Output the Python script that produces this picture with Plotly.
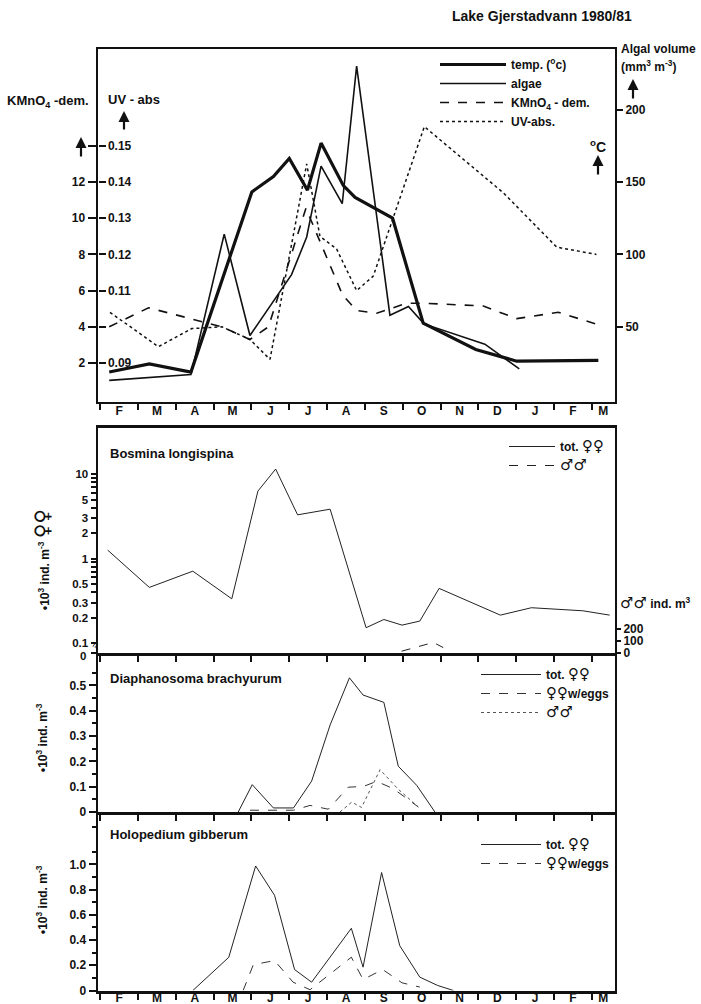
import plotly.graph_objects as go

# ---------------- data (x = months since 1 Feb 1980) ----------------
months = ["F", "M", "A", "M", "J", "J", "A", "S", "O", "N", "D", "J", "F", "M"]
month_pos = [0.5, 1.5, 2.5, 3.5, 4.5, 5.5, 6.5, 7.5, 8.5, 9.5, 10.5, 11.5, 12.5, 13.3]
month_bounds = list(range(0, 14))

temp_x = [0.24, 1.30, 2.40, 4.01, 4.58, 5.00, 5.48, 5.84, 6.43, 6.74, 7.73, 8.54, 9.93, 11.01, 13.17]
temp_c = [1.5, 1.95, 1.5, 11.45, 12.3, 13.3, 11.55, 14.15, 11.8, 11.15, 10.0, 4.2, 2.75, 2.1, 2.15]

algae_x = [0.24, 2.40, 3.28, 3.96, 5.06, 5.46, 5.84, 6.40, 6.78, 7.66, 8.15, 8.56, 10.17, 11.08]
algae_vol = [13, 17, 114, 44, 86, 112, 161, 135, 230, 58, 64, 52, 38, 21]

kmno4_x = [0.24, 1.28, 3.22, 3.96, 4.45, 5.44, 6.41, 6.78, 7.31, 8.10, 8.59, 10.13, 11.01, 12.11, 13.12]
kmno4 = [4.0, 5.05, 4.0, 3.3, 4.0, 10.55, 5.75, 4.9, 4.75, 5.3, 5.3, 5.15, 4.45, 4.8, 4.15]

uv_x = [0.26, 1.54, 2.42, 3.22, 3.96, 4.49, 5.46, 5.81, 6.25, 6.78, 7.22, 8.57, 10.66, 12.07, 13.12]
uv_abs = [0.104, 0.0945, 0.0995, 0.100, 0.0965, 0.091, 0.145, 0.125, 0.1215, 0.110, 0.114, 0.1553, 0.137, 0.122, 0.120]

bos_x = [0.20, 1.30, 2.45, 3.48, 4.17, 4.64, 5.22, 6.08, 7.03, 7.50, 7.98, 8.45, 8.96, 10.58, 11.40, 12.76, 13.47]
bos_fem = [1.26, 0.456, 0.71, 0.334, 6.3, 11.5, 3.3, 3.85, 0.152, 0.19, 0.163, 0.182, 0.444, 0.214, 0.262, 0.241, 0.214]
bos_m_x = [7.97, 8.81, 9.07]
bos_male = [15, 88, 45]

dia_x = [3.65, 4.02, 4.58, 5.11, 5.59, 6.08, 6.59, 6.95, 7.50, 7.88, 8.37, 8.85]
dia_tot = [0, 0.108, 0.016, 0.016, 0.122, 0.344, 0.530, 0.462, 0.433, 0.181, 0.105, 0]
dia_e_x = [3.96, 4.58, 5.11, 5.55, 6.03, 6.56, 6.96, 7.31, 7.75, 8.41]
dia_eggs = [0.007, 0.007, 0.007, 0.026, 0.011, 0.098, 0.101, 0.121, 0.092, 0.02]
dia_m_x = [6.34, 6.65, 6.91, 7.40, 7.88, 8.41]
dia_male = [0, 0.039, 0.018, 0.167, 0.09, 0.02]

hol_x = [2.45, 3.40, 4.11, 4.61, 5.14, 5.59, 6.64, 6.95, 7.44, 7.92, 8.45, 8.92, 9.34]
hol_tot = [0, 0.263, 0.987, 0.755, 0.166, 0.066, 0.493, 0.185, 0.935, 0.355, 0.106, 0.04, 0]
hol_e_x = [3.78, 4.05, 4.61, 5.10, 5.55, 6.64, 6.95, 7.47, 7.98, 8.45]
hol_eggs = [0, 0.205, 0.237, 0.066, 0.006, 0.264, 0.087, 0.166, 0.061, 0.027]

# ---------------- geometry helpers ----------------
W, H = 701, 1004
def px(x): return x / W
def py(y): return 1 - y / H

FONT = "Liberation Sans, Arial, sans-serif"
INK = "#111111"
XR = [-0.07, 13.61]
XDOM = [px(97.5), px(615)]

# top panel: one unit of KMnO4 / degC = 18.1 px, 0 at y=399.2
K_lo, K_hi = (399.2 - 402) / 18.1, (399.2 - 49) / 18.1

SYM = "<span style=\"font-family:'DejaVu Sans';font-size:15px;font-weight:normal\">{}</span>"
fem = SYM.format("\u2640\u2640")
mal = SYM.format("\u2642\u2642")

fig = go.Figure()
fig.add_trace(go.Scatter(x=temp_x, y=temp_c, mode="lines", name="temp. (<sup>o</sup>c)",
                         line=dict(color=INK, width=3.2), xaxis="x", yaxis="y", legend="legend"))
fig.add_trace(go.Scatter(x=algae_x, y=algae_vol, mode="lines", name="algae",
                         line=dict(color=INK, width=1.6), xaxis="x", yaxis="y4", legend="legend"))
fig.add_trace(go.Scatter(x=kmno4_x, y=kmno4, mode="lines", name="KMnO<sub>4</sub> - dem.",
                         line=dict(color=INK, width=1.6, dash="dash"), xaxis="x", yaxis="y", legend="legend"))
fig.add_trace(go.Scatter(x=uv_x, y=uv_abs, mode="lines", name="UV-abs.",
                         line=dict(color=INK, width=1.5, dash="dot"), xaxis="x", yaxis="y2", legend="legend"))

fig.add_trace(go.Scatter(x=bos_x, y=bos_fem, mode="lines", name="tot. " + fem,
                         line=dict(color="#222", width=1), xaxis="x2", yaxis="y5", legend="legend2"))
fig.add_trace(go.Scatter(x=bos_m_x, y=bos_male, mode="lines", name=mal,
                         line=dict(color="#222", width=1, dash="dash"), xaxis="x2", yaxis="y6", legend="legend2"))

fig.add_trace(go.Scatter(x=dia_x, y=dia_tot, mode="lines", name="tot. " + fem,
                         line=dict(color="#222", width=1), xaxis="x3", yaxis="y7", legend="legend3"))
fig.add_trace(go.Scatter(x=dia_e_x, y=dia_eggs, mode="lines", name=fem + "w/eggs",
                         line=dict(color="#333", width=1, dash="dash"), xaxis="x3", yaxis="y7", legend="legend3"))
fig.add_trace(go.Scatter(x=dia_m_x, y=dia_male, mode="lines", name=mal,
                         line=dict(color="#555", width=1, dash="dot"), xaxis="x3", yaxis="y7", legend="legend3"))

fig.add_trace(go.Scatter(x=hol_x, y=hol_tot, mode="lines", name="tot. " + fem,
                         line=dict(color="#222", width=1), xaxis="x4", yaxis="y8", legend="legend4"))
fig.add_trace(go.Scatter(x=hol_e_x, y=hol_eggs, mode="lines", name=fem + "w/eggs",
                         line=dict(color="#333", width=1, dash="dash"), xaxis="x4", yaxis="y8", legend="legend4"))

tickfont = dict(family=FONT, size=12, color=INK, weight="bold")

def xaxis(anchor, lw, labels, standoff=0, mirror=True):
    d = dict(domain=XDOM, range=XR, anchor=anchor, showgrid=False, zeroline=False,
             showline=True, linecolor=INK, linewidth=lw, mirror=mirror, automargin=False,
             tickfont=tickfont, fixedrange=True)
    if labels:
        d.update(tickmode="array", tickvals=month_pos, ticktext=months, ticks="", ticklen=0,
                 ticklabelstandoff=standoff,
                 minor=dict(tickmode="array", tickvals=month_bounds, ticks="outside",
                            ticklen=6, tickwidth=2, tickcolor=INK, showgrid=False))
    else:
        d.update(tickmode="array", tickvals=month_bounds, ticks="outside", ticklen=6,
                 tickwidth=2, tickcolor=INK, showticklabels=False)
    return d

DOM_TOP = [py(402), py(49)]
DOM_BOS = [py(653), py(427.5)]
DOM_DIA = [py(812), py(653)]
DOM_HOL = [py(990.5), py(812)]

base_y = dict(showgrid=False, zeroline=False, automargin=False, tickfont=tickfont,
              tickcolor=INK, fixedrange=True)

bos_ticks = [10 ** -1.117] + [i / 10 for i in range(1, 10)] + list(range(1, 10)) + [10]
bos_text = ["", "0.1", "0.2", "0.3", "", "0.5", "", "", "", "",
            "1", "2", "3", "", "5", "", "", "", "", "10"]

fig.update_layout(
    width=W, height=H, margin=dict(l=0, r=0, t=0, b=0),
    paper_bgcolor="white", plot_bgcolor="white", template="none",
    font=dict(family=FONT, color=INK),
    xaxis=xaxis("y", 2, True, -3),
    xaxis2=xaxis("y5", 3, False),
    xaxis3=xaxis("y7", 3, False, mirror=False),
    xaxis4=xaxis("y8", 3, True, -6, mirror=False),
    yaxis=dict(base_y, domain=DOM_TOP, range=[K_lo, K_hi], anchor="x",
               showline=True, linecolor=INK, linewidth=2, mirror=True,
               tickmode="array", tickvals=[2, 4, 6, 8, 10, 12, 14],
               ticktext=["2", "4", "6", "8", "10", "12", ""],
               ticks="outside", ticklen=8, tickwidth=2),
    yaxis2=dict(base_y, overlaying="y", anchor="free", position=XDOM[0], side="right",
                range=[0.08 + 0.005 * K_lo, 0.08 + 0.005 * K_hi],
                tickmode="array", tickvals=[0.09, 0.10, 0.11, 0.12, 0.13, 0.14, 0.15],
                ticktext=["0.09", "", "0.11", "0.12", "0.13", "0.14", "0.15"],
                ticks="outside", ticklen=7, tickwidth=2),
    yaxis3=dict(base_y, overlaying="y", anchor="free", position=XDOM[1], side="left",
                range=[K_lo, K_hi], tickmode="array", tickvals=list(range(1, 17)),
                ticktext=["1", "", "3", "", "", "6", "", "8", "", "10", "", "12", "", "", "", ""],
                ticks="outside", ticklen=8, tickwidth=2),
    yaxis4=dict(base_y, overlaying="y", anchor="x", side="right",
                range=[12.5 * K_lo, 12.5 * K_hi], tickmode="array",
                tickvals=[50, 100, 150, 200], ticks="outside", ticklen=7, tickwidth=2),
    yaxis5=dict(base_y, domain=DOM_BOS, type="log", range=[-1.118, 1.553], anchor="x2",
                showline=True, linecolor=INK, linewidth=2, mirror=True,
                tickmode="array", tickvals=bos_ticks, ticktext=bos_text,
                tickfont=dict(tickfont, size=11.5),
                ticks="outside", ticklen=5, tickwidth=2),
    yaxis6=dict(base_y, overlaying="y5", anchor="x2", side="right", range=[0, 1880],
                tickmode="array", tickvals=[0, 100, 200], ticks="outside", ticklen=5, tickwidth=2),
    yaxis7=dict(base_y, domain=DOM_DIA, range=[0, 0.628], anchor="x3",
                showline=True, linecolor=INK, linewidth=2, mirror=True,
                tickmode="array", tickvals=[0, 0.1, 0.2, 0.3, 0.4, 0.5],
                ticktext=["0", "0.1", "0.2", "0.3", "0.4", "0.5"],
                ticks="outside", ticklen=7, tickwidth=2,
                minor=dict(tickmode="array", tickvals=[0.05, 0.15, 0.25, 0.35, 0.45, 0.55],
                           ticks="outside", ticklen=4, tickwidth=1.5, tickcolor=INK)),
    yaxis8=dict(base_y, domain=DOM_HOL, range=[0, 1.415], anchor="x4",
                showline=True, linecolor=INK, linewidth=2, mirror=True,
                tickmode="array", tickvals=[0, 0.2, 0.4, 0.6, 0.8, 1.0],
                ticktext=["0", "0.2", "0.4", "0.6", "0.8", "1.0"],
                ticks="outside", ticklen=7, tickwidth=2,
                minor=dict(tickmode="array", tickvals=[0.1, 0.3, 0.5, 0.7, 0.9, 1.1, 1.3],
                           ticks="outside", ticklen=4, tickwidth=1.5, tickcolor=INK)),
)

legfont = dict(family=FONT, size=12, color=INK, weight="bold")
def leg(xp, yp, iw):
    return dict(x=px(xp), y=py(yp), xanchor="left", yanchor="top", bgcolor="rgba(0,0,0,0)",
                font=legfont, itemwidth=iw, traceorder="normal", borderwidth=0,
                itemclick=False, itemdoubleclick=False)

fig.update_layout(legend=leg(435, 50, 66), legend2=leg(504, 432, 46),
                  legend3=leg(476, 660, 60), legend4=leg(476, 830, 60))

ann = []
def txt(x, y, s, size=12, xanchor="left", angle=0, bold=True):
    ann.append(dict(x=px(x), y=py(y), xref="paper", yref="paper", text=(f"<b>{s}</b>" if bold else s),
                    showarrow=False, xanchor=xanchor, yanchor="middle", textangle=angle,
                    font=dict(family=FONT, size=size, color=INK)))
def arrow(x, ytip, ytail):
    ann.append(dict(x=px(x), y=py(ytip), xref="paper", yref="paper", text="", showarrow=True,
                    ax=0, ay=ytail - ytip, arrowhead=2, arrowsize=1, arrowwidth=2.2, arrowcolor=INK))

txt(542, 16, "Lake Gjerstadvann 1980/81", size=14, xanchor="center")
txt(5, 101, "KMnO<sub>4</sub> -dem.", size=13)
txt(106, 99, "UV - abs", size=13)
arrow(124, 111, 131)
arrow(81, 137, 158)
txt(619, 49, "Algal volume", size=12)
txt(619, 66, "(mm<sup>3</sup> m<sup>-3</sup>)", size=12)
arrow(633, 79, 100)
txt(598, 146, "<sup>o</sup>C", size=14, xanchor="center")
arrow(598, 155, 176)

txt(108, 453, "Bosmina longispina", size=13)
txt(88, 656, "0", size=11.5, xanchor="right")
txt(618, 603, SYM.format("\u2642\u2642") + " ind. m<sup>3</sup>", size=12)
txt(95, 645, "\u2248", size=11, xanchor="center", angle=-60, bold=False)
txt(42, 560, "\u202210<sup>3</sup> ind. m<sup>-3</sup> "
    "<span style=\"font-family:'DejaVu Sans';font-size:20px;font-weight:normal\">\u2640\u2640</span>",
    size=12, xanchor="center", angle=-90)

txt(108, 678, "Diaphanosoma brachyurum", size=13)
txt(42, 738, "\u202210<sup>3</sup> ind. m<sup>-3</sup>", size=12, xanchor="center", angle=-90)

txt(108, 834, "Holopedium gibberum", size=13)
txt(42, 900, "\u202210<sup>3</sup> ind. m<sup>-3</sup>", size=12, xanchor="center", angle=-90)

fig.update_layout(annotations=ann)
fig.write_html("out.html")
